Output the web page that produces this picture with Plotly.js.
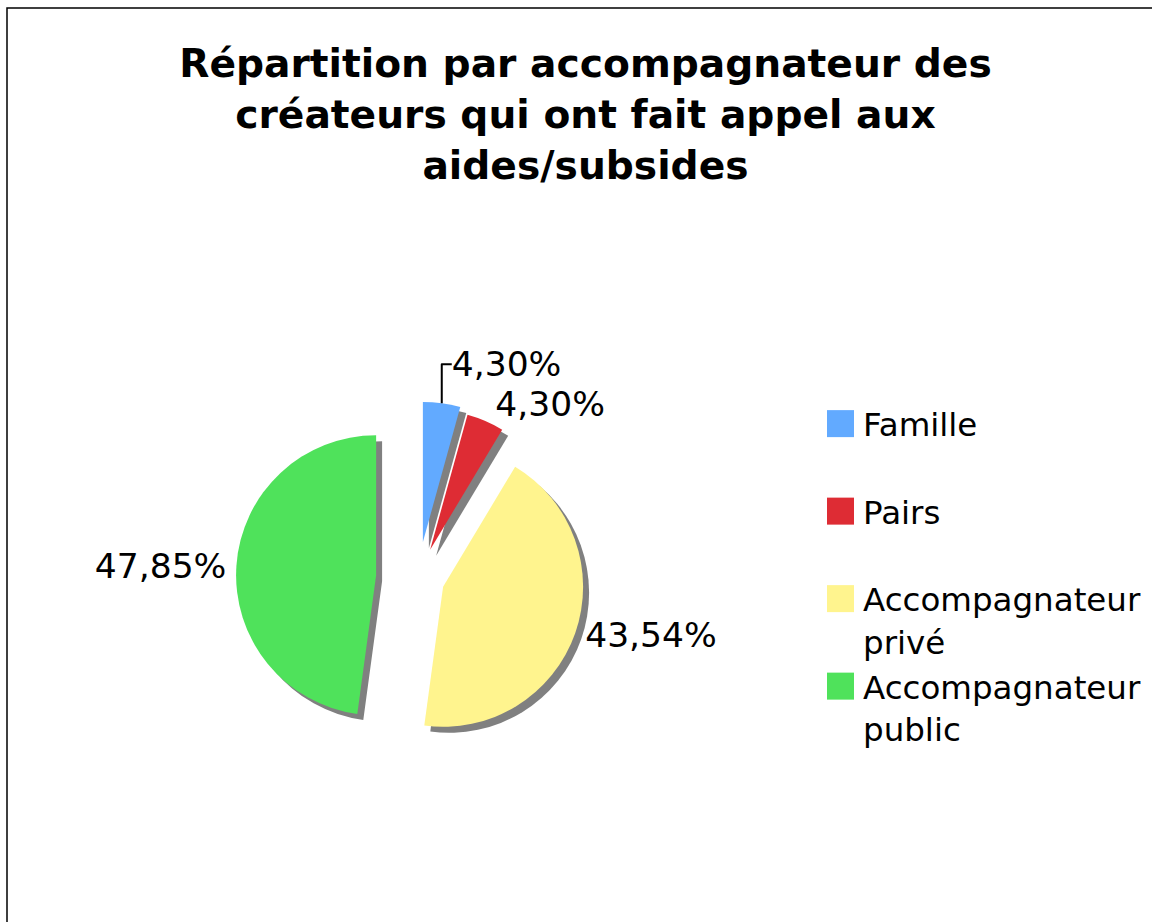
<!DOCTYPE html>
<html>
<head>
<meta charset="utf-8">
<script src="https://cdn.plot.ly/plotly-3.0.1.min.js"></script>
<style>html,body{margin:0;padding:0;background:#fff;}#chart{width:1152px;height:922px;}</style>
</head>
<body>
<div id="chart"></div>
<script>
// Data
const categories = ["Famille<br>\u00a0", "Pairs<br>\u00a0", "Accompagnateur<br>privé", "Accompagnateur<br>public"];
const values = [4.30, 4.30, 43.54, 47.85];
const sliceColors = ["#62aaff", "#de2c34", "#fff48e", "#4fe25b"];
const pulls = [0.26, 0.22, 0.19, 0.30];

const W = 1152, H = 922;
const cx = 418, cy = 578, box = 364;
const dom = (ox, oy) => ({
  x: [(cx - box/2 + ox)/W, (cx + box/2 + ox)/W],
  y: [1 - (cy + box/2 + oy)/H, 1 - (cy - box/2 + oy)/H]
});

const shadow = {
  type: 'pie', labels: categories, values: values, sort: false, direction: 'clockwise', rotation: 0,
  pull: pulls, domain: dom(6, 6), marker: {colors: values.map(() => '#808080'), line: {width: 0}},
  textinfo: 'none', hoverinfo: 'skip', showlegend: false
};
const main = {
  type: 'pie', labels: categories, values: values, sort: false, direction: 'clockwise', rotation: 0,
  pull: pulls, domain: dom(0, 0), marker: {colors: sliceColors, line: {width: 0}},
  texttemplate: '%{value:.2f}%', textposition: 'outside',
  outsidetextfont: {family: 'DejaVu Sans', size: 34.5, color: '#000'},
  showlegend: true
};

const layout = {
  width: W, height: H,
  margin: {l: 0, r: 0, t: 0, b: 0},
  paper_bgcolor: '#fff',
  separators: ', ',
  font: {family: 'DejaVu Sans', color: '#000'},
  title: {
    text: 'Répartition par accompagnateur des<br>créateurs qui ont fait appel aux<br>aides/subsides',
    font: {family: 'DejaVu Sans', size: 39.2, weight: 'bold', color: '#000'},
    x: 585.5/W, xanchor: 'center', y: 1 - 77/H, yanchor: 'top'
  },
  legend: {
    x: 818/W, xanchor: 'left', y: 1 - 396/H, yanchor: 'top',
    font: {family: 'DejaVu Sans', size: 32.5, color: '#000'},
    valign: 'top', itemwidth: 35, bgcolor: 'rgba(0,0,0,0)'
  },
  shapes: [{
    type: 'rect', xref: 'paper', yref: 'paper',
    x0: 7/W, x1: 1.05, y0: -0.05, y1: 1 - 8/H,
    line: {color: '#000', width: 1.5}, fillcolor: 'rgba(0,0,0,0)'
  }]
};

Plotly.newPlot('chart', [shadow, main], layout, {displayModeBar: false, staticPlot: true}).then(() => {
  document.querySelectorAll('path.legendpie').forEach(p => {
    const t = p.getAttribute('transform') || '';
    p.setAttribute('transform', t + ' scale(2.25)');
  });
});
</script>
</body>
</html>
